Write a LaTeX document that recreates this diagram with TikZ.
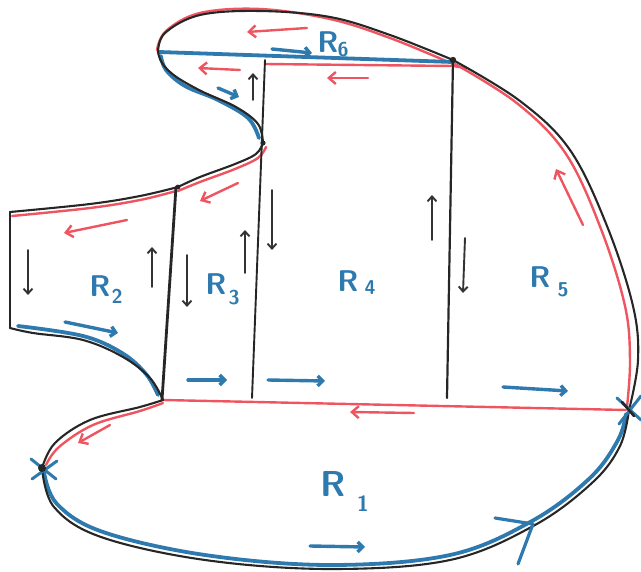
\documentclass[tikz,border=0pt]{standalone}
\usetikzlibrary{arrows.meta}
\definecolor{mblue}{HTML}{2E79AE}
\definecolor{mred}{HTML}{EF5560}
\begin{document}
\begin{tikzpicture}[x=1pt,y=-1pt,
  blk/.style={line width=2.1pt, black!85, line cap=round, line join=round},
  blu/.style={line width=3.8pt, mblue, line cap=round, line join=round},
  rd/.style={line width=2.4pt, mred, line cap=round, line join=round},
  rarr/.style={rd, -{Straight Barb[length=7pt,width=12pt]}},
  barr/.style={blu, line width=3.4pt, -{Straight Barb[length=5pt,width=10pt]}},
  karr/.style={line width=1.9pt, black!80, line cap=round, -{Straight Barb[length=5pt,width=9pt]}},
  lab/.style={mblue, font=\sffamily\bfseries\fontsize{30}{30}\selectfont, inner sep=0pt},
  sub/.style={mblue, font=\sffamily\bfseries\fontsize{20}{20}\selectfont, inner sep=0pt},
  sm/.style={smooth, tension=0.6}]
\useasboundingbox (0,0) rectangle (641,572);

% ---------- coloured edges ----------
% red
\draw[rd] plot[sm] coordinates {(12,216) (90,208) (140,200) (176,191)};
\draw[rd] plot[sm] coordinates {(178,191) (200,182) (235,169) (258,158) (266,147)};
\draw[rd] plot[sm] coordinates {(157,50) (166,31) (200,13) (260,9) (330,19) (390,38) (453,64)};
\draw[rd] (265,64) -- (453,66) -- (466,68);
\draw[rd] plot[sm] coordinates {(455,64) (518,104) (566,154) (601,229) (625,306) (630,360) (627,407)};
\draw[rd] (163,400) -- (626,410);
\draw[rd] plot[sm] coordinates {(163,403) (140,411) (93,425) (59,447) (46,465)};
% blue
\draw[blu] (159,52) -- (453,62);
\draw[blu] plot[sm] coordinates {(161,56) (166,70) (185,86) (218,100) (248,118) (259,138)};
\draw[blu] plot[sm] coordinates {(18,326) (83,336) (122,353) (146,374) (158,395)};
\draw[blu] plot[sm] coordinates {(44,472) (57,504) (103,532) (205,555) (330,565) (450,555) (532,521) (590,478) (618,440) (626,414)};

% ---------- black outline ----------
\coordinate (tl) at (10,212);
\coordinate (bl) at (10,328);
\coordinate (a) at (178,187);
\coordinate (neck) at (263,143);
\coordinate (tip) at (158,52);
\coordinate (dot) at (453,60);
\coordinate (xr) at (629,410);
\coordinate (xl) at (42,468);
\coordinate (b) at (163,400);
\draw[blk] (bl) -- (tl);
\draw[blk] plot[sm] coordinates {(10,212) (90,204) (140,196) (178,187)};
\draw[blk] plot[sm] coordinates {(178,187) (200,177) (235,164) (256,154) (263,143)};
\draw[blk] plot[sm] coordinates {(263,143) (258,124) (236,107) (201,91) (175,76) (162,63) (158,52)};
\draw[blk] plot[sm] coordinates {(158,52) (165,33) (200,15) (260,11) (330,17) (390,35) (453,60)};
\draw[blk] plot[sm] coordinates {(453,60) (520,101) (570,150) (607,226) (633,306) (638,360) (629,410)};
\draw[blk] plot[sm] coordinates {(629,410) (620,446) (593,482) (535,525) (450,560) (330,569) (205,560) (101,537) (54,507) (42,468)};
\draw[blk] plot[sm] coordinates {(42,468) (55,443) (90,420) (140,407) (163,400)};
\draw[blk] plot[sm] coordinates {(163,400) (150,378) (123,357) (83,340) (33,333) (10,328)};
% inner verticals
\draw[blk, line width=2.8pt] (176,187) -- (162,400);
\draw[blk, line width=1.9pt] (265,60) -- (252,398);
\draw[blk, line width=2.2pt] (453,60) -- (447,398);

% vertices
\fill[black!85] (dot) circle (3.2pt);
\fill[black!85] (neck) circle (2.6pt);
\fill[black!85] (a) circle (2.4pt);
\draw[blu, line width=3pt] (31,459) -- (56,479) (32,479) -- (57,461);
\fill[black!85] (xl) circle (4pt);
\draw[blu, line width=3pt] (617,398) -- (641,420) (619,424) -- (641,396);
\draw[blk, line width=2.6pt] (622,402) -- (634,416);

% ---------- arrows ----------
% red
\draw[rarr] (307,28) -- (247,32);
\draw[rarr] (240,70) -- (198,68);
\draw[rarr] (368,78) -- (327,78);
\draw[rarr] (238,183) -- (200,201);
\draw[rarr] (127,220) -- (64,233);
\draw[rarr] (583,225) -- (556,169);
\draw[rarr] (414,413) -- (350,412);
\draw[rarr] (110,425) -- (78,443);
% blue
\draw[barr] (272,49) -- (312,53);
\draw[barr] (218,88) -- (239,97);
\draw[barr] (65,322) -- (118,333);
\draw[barr] (188,380) -- (227,380);
\draw[barr] (268,380) -- (325,381);
\draw[barr] (503,387) -- (568,391);
\draw[barr] (310,546) -- (365,547);
\draw[blu, line width=3.2pt] (495,518) -- (533,524) -- (518,564);
% black
\draw[karr] (253,100) -- (253,73);
\draw[karr] (28,250) -- (28,295);
\draw[karr] (152,287) -- (152,247);
\draw[karr] (187,255) -- (187,307);
\draw[karr] (245,273) -- (245,230);
\draw[karr] (272,190) -- (272,250);
\draw[karr] (432,240) -- (432,195);
\draw[karr] (465,238) -- (463,293);

% ---------- labels ----------
\node[lab] (r6) at (328,42) {R};
\node[sub] (r6s) at (343,50) {6};
\node[lab] (r2) at (100,286) {R};
\node[sub] (r2s) at (117,296) {2};
\node[lab] (r3) at (216,284) {R};
\node[sub] (r3s) at (234,298) {3};
\node[lab] (r4) at (348,281) {R};
\node[sub] (r4s) at (370,288) {4};
\node[lab] (r5) at (540,277) {R};
\node[sub] (r5s) at (563,290) {5};
\node[lab, font=\sffamily\bfseries\fontsize{36}{36}\selectfont] (r1) at (333,484) {R};
\node[sub, font=\sffamily\bfseries\fontsize{22}{22}\selectfont] (r1s) at (363,504) {1};
\end{tikzpicture}
\end{document}
